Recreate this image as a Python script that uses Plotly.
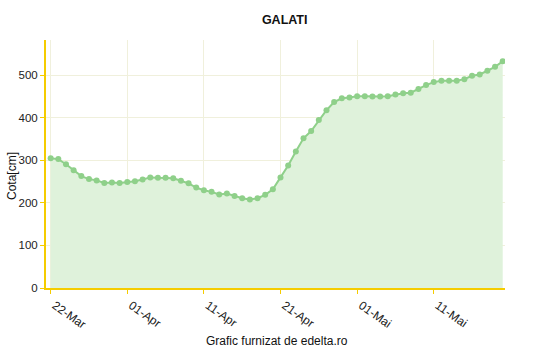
import plotly.graph_objects as go
import pandas as pd

start_date = "2013-03-22"
values = [305, 303, 291, 277, 263, 256, 253, 247, 248, 247,
          249, 251, 255, 260, 259, 259, 258, 252, 246, 236,
          230, 226, 220, 222, 216, 211, 208, 211, 219, 232,
          260, 288, 321, 352, 369, 395, 418, 437, 446, 448,
          451, 451, 450, 450, 451, 455, 458, 459, 468, 477,
          484, 487, 487, 487, 491, 499, 502, 511, 520, 533]
dates = pd.date_range(start_date, periods=len(values), freq="D")

tick_dates = ["2013-03-22", "2013-04-01", "2013-04-11", "2013-04-21", "2013-05-01", "2013-05-11"]
tick_labels = ["22-Mar", "01-Apr", "11-Apr", "21-Apr", "01-Mai", "11-Mai"]
y_ticks = [0, 100, 200, 300, 400, 500]

axis_col = "#f5cc00"
grid_col = "#f0f0dc"
font = "Liberation Sans, Arial, sans-serif"

W, H = 550, 350
L, R, T, B = 46, 45, 40, 62

fig = go.Figure()
fig.add_trace(go.Scatter(
    x=dates, y=values, mode="lines+markers",
    line=dict(color="#8fd08a", width=2),
    marker=dict(color="#8fd08a", size=6),
    fill="tozeroy", fillcolor="#dff2db",
    hoverinfo="x+y", showlegend=False,
))

fig.update_layout(
    width=W, height=H,
    margin=dict(l=L, r=R, t=T, b=B, autoexpand=False),
    paper_bgcolor="white", plot_bgcolor="white",
    font=dict(family=font, size=12, color="#222"),
    title=dict(text="<b>GALATI</b>", x=286 / W, xanchor="center", xref="paper",
               y=1 - 20 / H, yanchor="middle", font=dict(size=12.5, color="#111", family=font)),
    annotations=[
        dict(text="Grafic furnizat de edelta.ro", xref="paper", yref="paper",
             x=(277 - L) / (W - L - R), y=-(341 - (H - B)) / (H - T - B),
             xanchor="center", yanchor="middle", showarrow=False,
             font=dict(size=12, color="#111")),
        dict(text="Cota[cm]", xref="paper", yref="paper", textangle=-90,
             x=-(L - 12) / (W - L - R), y=1 - (176 - T) / (H - T - B),
             xanchor="center", yanchor="middle", showarrow=False,
             font=dict(size=12, color="#111")),
    ],
)
fig.update_xaxes(
    range=[pd.Timestamp(start_date) - pd.Timedelta(hours=14.6), pd.Timestamp(start_date) + pd.Timedelta(days=59.3)],
    tickvals=pd.to_datetime(tick_dates), ticktext=tick_labels, tickangle=35,
    ticklabelshift=4,
    showline=True, linecolor=axis_col, linewidth=2, automargin=False,
    ticks="outside", tickcolor=axis_col, ticklen=4, tickwidth=1,
    showgrid=True, gridcolor=grid_col, gridwidth=1, zeroline=False,
    tickfont=dict(size=12, color="#222"),
)
fig.update_yaxes(
    range=[0, 583], tickvals=y_ticks,
    showline=True, linecolor=axis_col, linewidth=2, automargin=False,
    ticks="outside", tickcolor=axis_col, ticklen=4, tickwidth=1,
    showgrid=True, gridcolor=grid_col, gridwidth=1, zeroline=False,
    tickfont=dict(size=11.5, color="#222"),
)

fig.write_html("out.html")
